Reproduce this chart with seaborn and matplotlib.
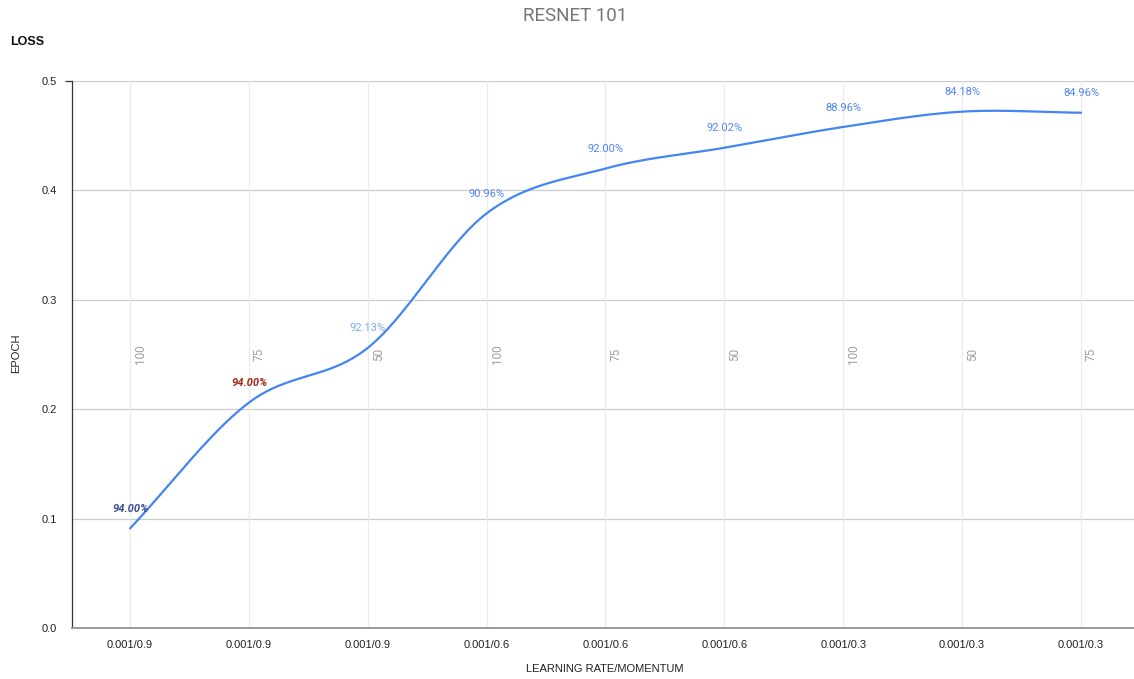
import numpy as np
import pandas as pd
import matplotlib
matplotlib.use("Agg")
import matplotlib.pyplot as plt
import matplotlib.transforms as mtransforms
import seaborn as sns

# Data
lr_momentum = ["0.001/0.9", "0.001/0.9", "0.001/0.9", "0.001/0.6", "0.001/0.6",
               "0.001/0.6", "0.001/0.3", "0.001/0.3", "0.001/0.3"]
epochs = ["100", "75", "50", "100", "75", "50", "100", "50", "75"]
loss = [0.091, 0.206, 0.256, 0.379, 0.420, 0.439, 0.458, 0.472, 0.471]
accuracy = ["94.00%", "94.00%", "92.13%", "90.96%", "92.00%", "92.02%", "88.96%", "84.18%", "84.96%"]
label_colors = ["#3b4f8f", "#a52714", "#7baaf7", "#4f86f0", "#4f86f0",
                "#4f86f0", "#4f86f0", "#4f86f0", "#4f86f0"]
label_styles = [("italic", "bold"), ("italic", "bold")] + [("normal", "normal")] * 7

LINE = "#4285f4"

sns.set_theme(style="white")
plt.rcParams["font.family"] = ["Liberation Sans", "DejaVu Sans"]

fig = plt.figure(figsize=(11.34, 6.79), dpi=100)
ax = fig.add_axes([72 / 1134, 1 - 628 / 679, 1 - 72 / 1134, (628 - 81) / 679])

# smooth curve through the points (Catmull-Rom style Hermite segments)
xs = np.arange(len(loss), dtype=float)
ys = np.array(loss)
tang = np.gradient(ys, xs)
dense_x, dense_y = [], []
for i in range(len(xs) - 1):
    t = np.linspace(0, 1, 40, endpoint=(i == len(xs) - 2))
    h00 = 2 * t**3 - 3 * t**2 + 1
    h10 = t**3 - 2 * t**2 + t
    h01 = -2 * t**3 + 3 * t**2
    h11 = t**3 - t**2
    dense_x.extend(xs[i] + t)
    dense_y.extend(h00 * ys[i] + h10 * tang[i] + h01 * ys[i + 1] + h11 * tang[i + 1])
curve = pd.DataFrame({"x": dense_x, "y": dense_y})
sns.lineplot(data=curve, x="x", y="y", ax=ax, color=LINE, linewidth=1.6, sort=False)

ax.set_xlim(-0.488, 8.446)
ax.set_ylim(0, 0.5)
ax.set_xticks(xs)
ax.set_xticklabels(lr_momentum, fontsize=8, color="#222222")
ax.set_yticks([0, 0.1, 0.2, 0.3, 0.4, 0.5])
ax.set_yticklabels(["0.0", "0.1", "0.2", "0.3", "0.4", "0.5"], fontsize=8, color="#222222")

# grid
for v in [0.1, 0.2, 0.3, 0.4, 0.5]:
    ax.axhline(v, color="#cccccc", linewidth=0.9, zorder=0)
for x in xs:
    ax.axvline(x, color="#ebebeb", linewidth=0.9, zorder=0)

for s in ["top", "right"]:
    ax.spines[s].set_visible(False)
ax.spines["left"].set_color("#333333")
ax.spines["left"].set_linewidth(0.9)
ax.spines["bottom"].set_color("#9a9a9a")
ax.spines["bottom"].set_linewidth(1.4)
ax.tick_params(axis="y", length=5, width=0.9, color="#333333", pad=6, left=True)
ax.tick_params(axis="x", length=0, pad=9)
# only the top y tick mark is visible
for tk in ax.yaxis.get_major_ticks()[:-1]:
    tk.tick1line.set_visible(False)

# accuracy labels above each point
for i, (txt, col, (st, wt)) in enumerate(zip(accuracy, label_colors, label_styles)):
    ax.annotate(txt, (xs[i], loss[i]), xytext=(0, 14), textcoords="offset points",
                ha="center", va="center", fontsize=8, color=col, style=st,
                weight=wt, family=["Roboto", "DejaVu Sans"])

# epoch labels, vertical, beside each category line
trans = mtransforms.blended_transform_factory(ax.transData, ax.transAxes)
offset = mtransforms.offset_copy(trans, fig=fig, x=7.5, y=0, units="points")
for i, ep in enumerate(epochs):
    ax.text(xs[i], 0.5, ep, transform=offset, rotation=90, ha="center", va="center",
            fontsize=8.5, color="#9e9e9e", family=["Roboto", "DejaVu Sans"])

ax.set_xlabel("")
ax.set_ylabel("")
fig.text(605 / 1134, 1 - 669 / 679, "LEARNING RATE/MOMENTUM", ha="center", va="center",
         fontsize=8, color="#222222")
fig.text(16 / 1134, 1 - 353 / 679, "EPOCH", rotation=90, ha="center", va="center",
         fontsize=8, color="#222222")
fig.text(10 / 1134, 1 - 42 / 679, "LOSS", ha="left", va="center", fontsize=9,
         weight="bold", color="#111111")
fig.text(575 / 1134, 1 - 16 / 679, "RESNET 101", ha="center", va="center",
         fontsize=13.5, color="#757575", family=["Roboto", "DejaVu Sans"])

fig.savefig("out.png", dpi=100, facecolor="white")
